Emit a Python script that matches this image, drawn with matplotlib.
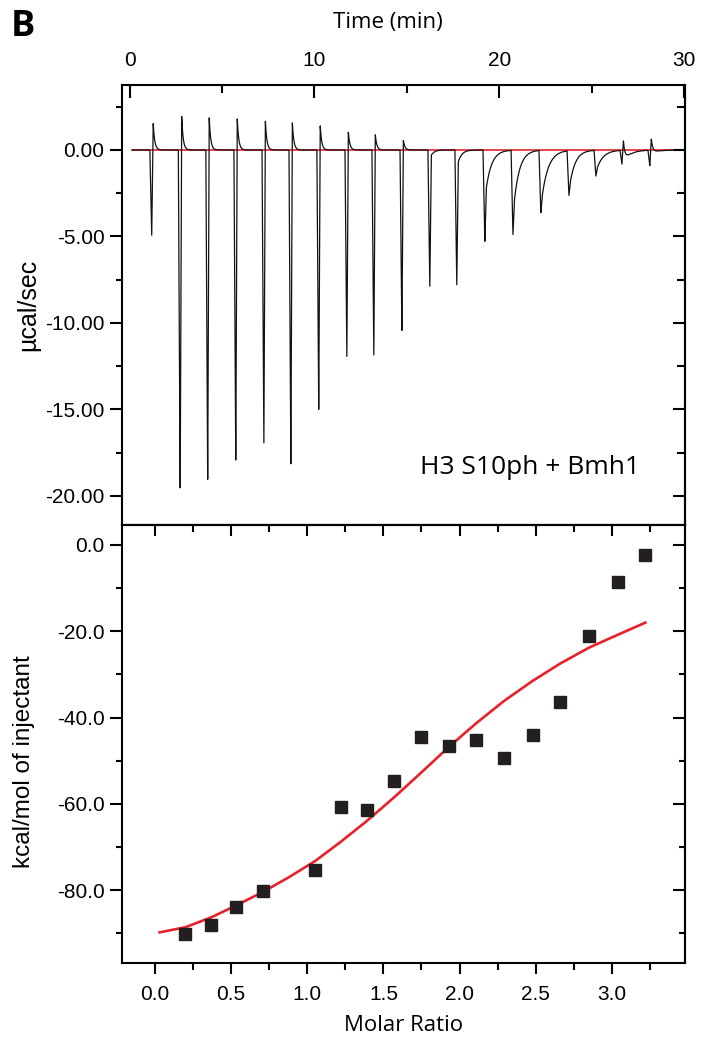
import numpy as np
import matplotlib.pyplot as plt
from matplotlib.ticker import MultipleLocator, FormatStrFormatter

# raw ITC trace: injection times (min) and peak features
inj_time = [1.19, 2.73, 4.22, 5.74, 7.26, 8.72, 10.23, 11.75, 13.21, 14.73,
            16.24, 17.70, 19.22, 20.74, 22.25, 23.77, 25.23, 26.64, 28.15]
dip_depth = [-4.95, -19.9, -19.2, -18.1, -17.1, -18.3, -15.1, -12.1, -12.0, -10.5,
             -8.0, -7.9, -5.3, -4.9, -3.6, -2.6, -1.5, -0.8, -0.9]
spike_height = [1.55, 2.0, 1.9, 1.8, 1.7, 1.6, 1.4, 1.05, 0.9, 0.55,
                0.1, 0.0, 0.0, 0.0, 0.0, 0.0, 0.0, 1.15, 0.8]
tail_height = [0, 0, 0, 0, 0, 0, 0, 0, 0, 0,
               -0.4, -0.7, -2.2, -2.9, -2.6, -1.8, -1.0, -0.6, -0.15]
tail_time = [0.1, 0.1, 0.1, 0.1, 0.1, 0.1, 0.1, 0.1, 0.1, 0.1,
             0.15, 0.2, 0.3, 0.3, 0.35, 0.3, 0.35, 0.4, 0.4]

# integrated heats and fit
molar_ratio = [0.20, 0.37, 0.53, 0.71, 1.05, 1.22, 1.39, 1.57, 1.75, 1.93,
               2.11, 2.29, 2.48, 2.66, 2.85, 3.04, 3.22]
heat = [-90.2, -88.0, -84.0, -80.3, -75.4, -60.8, -61.5, -54.7, -44.4, -46.6,
        -45.3, -49.4, -44.0, -36.4, -21.0, -8.5, -2.3]
fit_ratio = [0.03, 0.20, 0.37, 0.53, 0.71, 0.88, 1.05, 1.22, 1.39, 1.57,
             1.75, 1.93, 2.11, 2.29, 2.48, 2.66, 2.85, 3.04, 3.22]
fit_heat = [-89.8, -88.6, -86.3, -83.6, -80.4, -77.0, -73.3, -68.8, -64.0, -58.5,
            -52.7, -46.8, -41.3, -36.2, -31.5, -27.5, -23.8, -20.8, -18.0]

# build the thermogram from the peaks
t = np.linspace(0.14, 29.4, 9000)
trace = np.zeros_like(t)
for t0, d, s, a, tau in zip(inj_time, dip_depth, spike_height, tail_height, tail_time):
    down = (t >= t0 - 0.1) & (t < t0)
    trace[down] += d * (t[down] - (t0 - 0.1)) / 0.1
    up = (t >= t0) & (t < t0 + 0.08)
    trace[up] += d + (s + a - d) * (t[up] - t0) / 0.08
    after = t >= t0 + 0.08
    dt = t[after] - t0 - 0.08
    trace[after] += s * np.exp(-dt / 0.08) + a * np.exp(-dt / tau)

plt.rcParams['font.family'] = ['Liberation Sans', 'DejaVu Sans']
plt.rcParams['axes.linewidth'] = 1.5
label_font = ['Open Sans', 'DejaVu Sans']

fig = plt.figure(figsize=(7.12, 10.42), dpi=100)
ax1 = fig.add_axes([0.1713, 0.4962, 0.7907, 0.4223])
ax2 = fig.add_axes([0.1713, 0.0758, 0.7907, 0.4204])

# --- top panel
ax1.plot([0.14, 29.4], [0, 0], color='#e8202a', lw=1.2, zorder=1)
ax1.plot(t, trace, color='#111111', lw=0.9, zorder=2)
ax1.set_xlim(-0.42, 30.05)
ax1.set_ylim(-21.68, 3.76)
ax1.xaxis.tick_top()
ax1.xaxis.set_major_locator(MultipleLocator(10))
ax1.xaxis.set_minor_locator(MultipleLocator(5))
ax1.tick_params(axis='x', which='both', direction='in', top=True, bottom=False,
                labeltop=True, labelbottom=False, labelsize=15, pad=11, width=1.5)
ax1.tick_params(axis='x', which='major', length=9)
ax1.tick_params(axis='x', which='minor', length=6)
ax1.xaxis.set_label_position('top')
ax1.set_xlabel('Time (min)', fontsize=16, family=label_font)
ax1.xaxis.set_label_coords(0.472, 1.13)
ax1.yaxis.set_major_locator(MultipleLocator(5))
ax1.yaxis.set_minor_locator(MultipleLocator(2.5))
ax1.yaxis.set_major_formatter(FormatStrFormatter('%.2f'))
ax1.tick_params(axis='y', which='both', direction='out', left=True, right=False,
                labelsize=15, width=1.5)
ax1.tick_params(axis='y', which='major', length=9)
ax1.tick_params(axis='y', which='minor', length=4)
ax1.set_ylabel('µcal/sec', fontsize=18)
ax1.yaxis.set_label_coords(-0.145, 0.5)
r1 = ax1.secondary_yaxis('right')
r1.yaxis.set_major_locator(MultipleLocator(5))
r1.yaxis.set_minor_locator(MultipleLocator(2.5))
r1.tick_params(axis='y', which='both', direction='in', labelright=False, width=1.5)
r1.tick_params(axis='y', which='major', length=9)
r1.tick_params(axis='y', which='minor', length=6)
ax1.text(0.92, 0.13, 'H3 S10ph + Bmh1', transform=ax1.transAxes, ha='right', va='center',
         fontsize=19, family=label_font)

# --- bottom panel
ax2.plot(fit_ratio, fit_heat, color='#e8202a', lw=1.9, zorder=2)
ax2.plot(molar_ratio, heat, 's', color='#231f20', ms=8.5, zorder=3)
ax2.set_xlim(-0.217, 3.48)
ax2.set_ylim(-96.9, 4.64)
ax2.xaxis.set_major_locator(MultipleLocator(0.5))
ax2.xaxis.set_minor_locator(MultipleLocator(0.25))
ax2.xaxis.set_major_formatter(FormatStrFormatter('%.1f'))
ax2.tick_params(axis='x', which='both', direction='out', labelsize=15, width=1.5, pad=8)
ax2.tick_params(axis='x', which='major', length=8)
ax2.tick_params(axis='x', which='minor', length=5)
ax2.set_xlabel('Molar Ratio', fontsize=16, family=label_font, labelpad=8)
t2 = ax2.secondary_xaxis('top')
t2.xaxis.set_major_locator(MultipleLocator(0.5))
t2.xaxis.set_minor_locator(MultipleLocator(0.25))
t2.tick_params(axis='x', which='both', direction='in', labeltop=False, width=1.5)
t2.tick_params(axis='x', which='major', length=8)
t2.tick_params(axis='x', which='minor', length=5)
ax2.yaxis.set_major_locator(MultipleLocator(20))
ax2.yaxis.set_minor_locator(MultipleLocator(10))
ax2.yaxis.set_major_formatter(FormatStrFormatter('%.1f'))
ax2.tick_params(axis='y', which='both', direction='out', labelsize=15, width=1.5)
ax2.tick_params(axis='y', which='major', length=9)
ax2.tick_params(axis='y', which='minor', length=4)
ax2.set_ylabel('kcal/mol of injectant', fontsize=17.5)
ax2.yaxis.set_label_coords(-0.155, 0.46)
r2 = ax2.secondary_yaxis('right')
r2.yaxis.set_major_locator(MultipleLocator(20))
r2.yaxis.set_minor_locator(MultipleLocator(10))
r2.tick_params(axis='y', which='both', direction='in', labelright=False, width=1.5)
r2.tick_params(axis='y', which='major', length=9)
r2.tick_params(axis='y', which='minor', length=4)

fig.text(0.015, 0.974, 'B', fontsize=26, fontweight='bold', family=label_font, va='center')

fig.savefig('out.png', dpi=100)
